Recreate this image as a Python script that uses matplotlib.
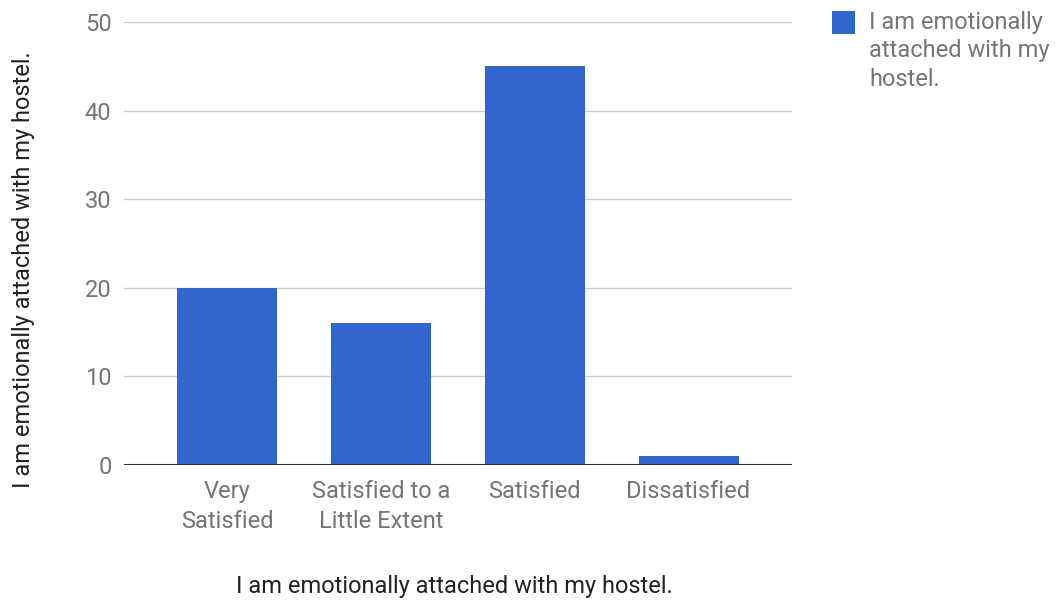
import matplotlib.pyplot as plt
from matplotlib.patches import Rectangle

categories = ["Very\nSatisfied", "Satisfied to a\nLittle Extent", "Satisfied", "Dissatisfied"]
values = [20, 16, 45, 1]
series_name = "I am emotionally attached with my hostel."
legend_label = "I am emotionally\nattached with my\nhostel."
yticks = [0, 10, 20, 30, 40, 50]

plt.rcParams['font.family'] = ['Roboto', 'DejaVu Sans']

W, H = 1063, 603
fig = plt.figure(figsize=(W / 100, H / 100), dpi=100)
ax = fig.add_axes([0.1167, 0.2289, 0.628, 0.7346])

x = range(len(categories))
ax.bar(x, values, width=0.65, color="#3366cc", zorder=3)

ax.set_xlim(-0.67, len(categories) - 0.33)
ax.set_ylim(0, 50)
ax.set_yticks(yticks)
ax.set_xticks(list(x))
ax.set_xticklabels(categories, linespacing=1.4)
ax.grid(axis="y", color="#cccccc", lw=1, zorder=0)
ax.axhline(0, color="#333333", lw=1.5, zorder=4)

for s in ax.spines.values():
    s.set_visible(False)
ax.tick_params(axis="both", length=0, labelsize=17, labelcolor="#757575")
ax.tick_params(axis="y", pad=9)
ax.tick_params(axis="x", pad=11)

ax.set_xlabel(series_name, fontsize=17, color="#222222", va="center")
ax.xaxis.set_label_coords(0.495, -0.275)
ax.set_ylabel(series_name, fontsize=17, color="#222222", va="center")
ax.yaxis.set_label_coords(-0.150, 0.44)

# legend: square aligned with the first text line
fig.patches.append(Rectangle((832 / W, 1 - 34 / H), 23 / W, 23 / H,
                             transform=fig.transFigure, facecolor="#3366cc",
                             edgecolor="none"))
fig.text(869 / W, 1 - 11 / H, legend_label, fontsize=17, color="#757575",
         va="top", ha="left", linespacing=1.3)

fig.savefig("out.png", dpi=100)
